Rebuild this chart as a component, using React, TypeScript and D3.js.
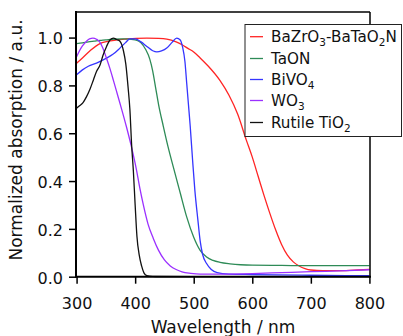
import { useEffect, useRef } from "react";
import * as d3 from "d3";

// wavelength (nm) / normalized absorption pairs
const bazroWl = [300, 310, 323, 340, 351, 368, 385, 402, 420, 440, 454, 470, 480, 490, 500, 511, 525, 545, 560, 575, 590, 600, 610, 620, 630, 640, 650, 660, 670, 680, 690, 700, 720, 750, 780, 800];
const bazroAbs = [0.893, 0.915, 0.945, 0.975, 0.983, 0.99, 0.994, 0.997, 0.998, 0.997, 0.994, 0.982, 0.97, 0.955, 0.94, 0.915, 0.88, 0.82, 0.76, 0.68, 0.57, 0.5, 0.42, 0.34, 0.265, 0.195, 0.135, 0.09, 0.062, 0.045, 0.034, 0.028, 0.025, 0.025, 0.028, 0.031];

const taonWl = [300, 310, 320, 330, 340, 350, 360, 380, 400, 410, 418, 425, 430, 435, 440, 448, 456, 465, 477, 488, 500, 511, 522, 533, 545, 562, 580, 600, 650, 700, 750, 800];
const taonAbs = [0.975, 0.978, 0.982, 0.985, 0.988, 0.99, 0.993, 0.995, 0.99, 0.978, 0.95, 0.91, 0.86, 0.79, 0.72, 0.63, 0.545, 0.46, 0.35, 0.25, 0.165, 0.11, 0.082, 0.068, 0.06, 0.054, 0.05, 0.048, 0.047, 0.046, 0.046, 0.046];

const bivoWl = [300, 310, 320, 334, 351, 362, 374, 384, 391, 400, 410, 420, 430, 437, 445, 454, 463, 471, 477, 481, 485, 488, 491, 494, 498, 502, 507, 511, 515, 522, 530, 540, 560, 600, 700, 800];
const bivoAbs = [0.845, 0.865, 0.88, 0.893, 0.914, 0.93, 0.956, 0.98, 0.995, 0.995, 0.982, 0.963, 0.945, 0.94, 0.944, 0.956, 0.98, 0.998, 0.99, 0.96, 0.9, 0.81, 0.72, 0.63, 0.49, 0.36, 0.24, 0.15, 0.095, 0.055, 0.03, 0.017, 0.011, 0.009, 0.006, 0.004];

const wo3Wl = [300, 305, 310, 317, 322, 328, 334, 340, 345, 351, 357, 363, 370, 377, 385, 393, 402, 408, 414, 422, 431, 440, 450, 460, 470, 480, 495, 511, 550, 600, 650, 700, 750, 800];
const wo3Abs = [0.92, 0.945, 0.965, 0.985, 0.995, 0.998, 0.993, 0.98, 0.955, 0.914, 0.87, 0.82, 0.76, 0.7, 0.628, 0.55, 0.45, 0.37, 0.3, 0.22, 0.16, 0.11, 0.07, 0.045, 0.03, 0.02, 0.014, 0.011, 0.011, 0.013, 0.017, 0.021, 0.024, 0.029];

const tio2Wl = [300, 305, 311, 317, 323, 329, 334, 340, 345, 351, 357, 363, 368, 374, 380, 384, 388, 391, 394, 397, 400, 403, 407, 411, 415, 420, 430, 500, 600, 700, 800];
const tio2Abs = [0.705, 0.715, 0.728, 0.753, 0.785, 0.825, 0.858, 0.885, 0.925, 0.962, 0.99, 0.998, 0.992, 0.985, 0.945, 0.89, 0.79, 0.7, 0.55, 0.44, 0.3, 0.17, 0.09, 0.045, 0.016, 0.004, 0.001, 0, 0, 0, 0];

const seriesNames = ["BaZrO3-BaTaO2N", "TaON", "BiVO4", "WO3", "Rutile TiO2"];
const seriesColors = ["#ff2424", "#2e8b57", "#3535ff", "#9b30ff", "#111111"];
const seriesWl = [bazroWl, taonWl, bivoWl, wo3Wl, tio2Wl];
const seriesAbs = [bazroAbs, taonAbs, bivoAbs, wo3Abs, tio2Abs];
// legend labels split into [text, subscript] pieces
const legendParts: [string, boolean][][] = [
  [["BaZrO", false], ["3", true], ["-BaTaO", false], ["2", true], ["N", false]],
  [["TaON", false]],
  [["BiVO", false], ["4", true]],
  [["WO", false], ["3", true]],
  [["Rutile TiO", false], ["2", true]],
];

const xTicks = [300, 400, 500, 600, 700, 800];
const yTicks = [0, 0.2, 0.4, 0.6, 0.8, 1.0];

const FONT = "DejaVu Sans, Verdana, sans-serif";

export default function App() {
  const ref = useRef<SVGSVGElement | null>(null);

  useEffect(() => {
    if (!ref.current) return;
    const svg = d3.select(ref.current);
    svg.selectAll("*").remove();

    const left = 76, right = 370, top = 12, bottom = 276.7;

    const x = d3.scaleLinear().domain([299, 801]).range([left, right]);
    const y = d3.scaleLinear().domain([0, 1.107]).range([bottom, top]);

    const line = d3.line<[number, number]>()
      .x(d => x(d[0]))
      .y(d => y(d[1]))
      .curve(d3.curveMonotoneX);

    const g = svg.append("g");

    seriesWl.forEach((wl, i) => {
      const pts = wl.map((w, j) => [w, seriesAbs[i][j]] as [number, number]);
      g.append("path")
        .datum(pts)
        .attr("fill", "none")
        .attr("stroke", seriesColors[i])
        .attr("stroke-width", 1.3)
        .attr("d", line);
    });

    // frame
    svg.append("line").attr("x1", left).attr("x2", right).attr("y1", top).attr("y2", top)
      .attr("stroke", "#000").attr("stroke-width", 1.5);
    svg.append("line").attr("x1", right).attr("x2", right).attr("y1", top).attr("y2", bottom)
      .attr("stroke", "#000").attr("stroke-width", 1.5);

    const xAxis = svg.append("g")
      .attr("transform", `translate(0,${bottom})`)
      .call(d3.axisBottom(x).tickValues(xTicks).tickSize(7).tickSizeOuter(0).tickPadding(14).tickFormat(d3.format("d")));
    xAxis.select(".domain").attr("stroke-width", 2).attr("d", `M${left - 1},0H${right + 1}`);
    xAxis.selectAll(".tick line").attr("stroke-width", 1.5);
    xAxis.selectAll("text").attr("font-size", 16).attr("font-family", FONT).attr("fill", "#111");

    const yAxis = svg.append("g")
      .attr("transform", `translate(${left},0)`)
      .call(d3.axisLeft(y).tickValues(yTicks).tickSize(7).tickSizeOuter(0).tickPadding(6).tickFormat(d3.format(".1f")));
    yAxis.select(".domain").attr("stroke-width", 2).attr("d", `M0,${top - 1}V${bottom + 1}`);
    yAxis.selectAll(".tick line").attr("stroke-width", 1.5);
    yAxis.selectAll("text").attr("font-size", 16).attr("font-family", FONT).attr("fill", "#111").attr("dy", "0.4em");

    svg.append("text")
      .attr("x", 223).attr("y", 333)
      .attr("text-anchor", "middle").attr("font-size", 17).attr("font-family", FONT).attr("fill", "#111")
      .text("Wavelength / nm");

    svg.append("text")
      .attr("transform", `translate(22,140) rotate(-90)`)
      .attr("text-anchor", "middle").attr("font-size", 17).attr("font-family", FONT).attr("fill", "#111")
      .text("Normalized absorption / a.u.");

    // legend
    const lg = svg.append("g");
    lg.append("rect").attr("x", 245).attr("y", 24.5).attr("width", 156.5).attr("height", 112)
      .attr("fill", "#fff").attr("stroke", "#222").attr("stroke-width", 1);
    const rowY = [36.7, 58.5, 79.5, 100.5, 122.5];
    seriesNames.forEach((name, i) => {
      lg.append("line").attr("x1", 250).attr("x2", 263).attr("y1", rowY[i]).attr("y2", rowY[i])
        .attr("stroke", seriesColors[i]).attr("stroke-width", 1.3);
      const t = lg.append("text").attr("x", 271).attr("y", rowY[i] + 5)
        .attr("font-size", 15.2).attr("font-family", FONT).attr("fill", "#111")
        .attr("data-name", name);
      legendParts[i].forEach(([s, sub]) => {
        if (sub) {
          t.append("tspan").attr("font-size", 10.5).attr("dy", 4).text(s);
        } else {
          const sp = t.append("tspan").text(s);
          if (t.selectAll("tspan").size() > 1) sp.attr("dy", -4);
        }
      });
    });
  }, []);

  return (
    <svg ref={ref} width={403} height={336}
      style={{ position: "fixed", left: 0, top: 0, background: "#fff" }} />
  );
}
